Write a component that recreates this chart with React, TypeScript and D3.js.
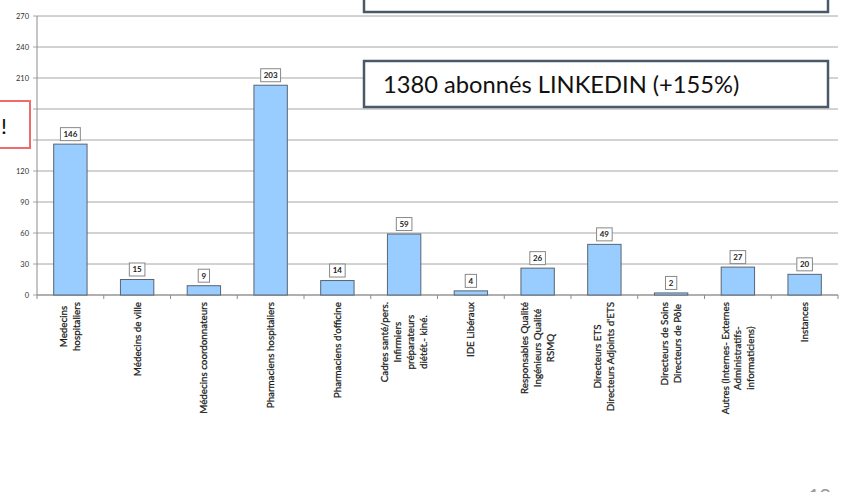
import React, { useEffect, useRef } from 'react';
import * as d3 from 'd3';

// categories (line breaks as in the original)
const categories: string[][] = [
  ['Medecins', 'hospitaliers'],
  ['Médecins de ville'],
  ['Médecins coordonnateurs'],
  ['Pharmaciens hospitaliers'],
  ["Pharmaciens d'officine"],
  ['Cadres santé/pers.', 'Infirmiers', 'préparateurs', 'diétét.- kiné.'],
  ['IDE Libéraux'],
  ['Responsables Qualité', 'Ingénieurs Qualité', 'RSMQ'],
  ['Directeurs ETS', "Directeurs Adjoints d'ETS"],
  ['Directeurs de Soins', 'Directeurs de Pôle'],
  ['Autres (Internes- Externes', 'Administratifs-', 'informaticiens)'],
  ['Instances'],
];
const values: number[] = [146, 15, 9, 203, 14, 59, 4, 26, 49, 2, 27, 20];
const yTicks: number[] = [0, 30, 60, 90, 120, 150, 180, 210, 240, 270];
const linkedinText = '1380 abonnés LINKEDIN (+155%)';

export default function App() {
  const svgRef = useRef<SVGSVGElement>(null);

  const width = 844;
  const height = 492;
  const margin = { top: 16, right: 6, bottom: 197, left: 37 };
  const innerW = width - margin.left - margin.right;
  const innerH = height - margin.top - margin.bottom;

  useEffect(() => {
    const svg = d3.select(svgRef.current);
    svg.selectAll('*').remove();

    const x = d3.scaleBand<number>()
      .domain(d3.range(categories.length))
      .range([0, innerW])
      .paddingInner(0.5)
      .paddingOuter(0.25);
    const y = d3.scaleLinear().domain([0, 270]).range([innerH, 0]);

    svg.append('rect').attr('width', width).attr('height', height).attr('fill', '#fff');

    const g = svg.append('g').attr('transform', `translate(${margin.left},${margin.top})`);

    // gridlines + y axis
    g.append('g')
      .selectAll('line')
      .data(yTicks)
      .join('line')
      .attr('x1', -4)
      .attr('x2', innerW)
      .attr('y1', d => y(d))
      .attr('y2', d => y(d))
      .attr('stroke', '#a6a6a6')
      .attr('stroke-width', 1);

    g.append('g')
      .selectAll('text')
      .data(yTicks)
      .join('text')
      .attr('x', -8)
      .attr('y', d => y(d))
      .attr('dy', '0.35em')
      .attr('text-anchor', 'end')
      .attr('font-family', 'Lato, sans-serif')
      .attr('font-size', 7.5)
      .attr('fill', '#333')
      .text(d => d);

    g.append('line')
      .attr('x1', 0).attr('x2', 0)
      .attr('y1', 0).attr('y2', innerH)
      .attr('stroke', '#8c8c8c');

    // x axis with ticks on category boundaries
    g.append('line')
      .attr('x1', 0).attr('x2', innerW)
      .attr('y1', innerH).attr('y2', innerH)
      .attr('stroke', '#8c8c8c');
    const step = x.step();
    g.append('g')
      .selectAll('line')
      .data(d3.range(categories.length + 1))
      .join('line')
      .attr('x1', d => d * step)
      .attr('x2', d => d * step)
      .attr('y1', innerH)
      .attr('y2', innerH + 4)
      .attr('stroke', '#8c8c8c');

    // bars
    g.append('g')
      .selectAll('rect')
      .data(values)
      .join('rect')
      .attr('x', (d, i) => x(i)!)
      .attr('y', d => y(d))
      .attr('width', x.bandwidth())
      .attr('height', d => innerH - y(d))
      .attr('fill', '#99ccff')
      .attr('stroke', '#5a6470')
      .attr('stroke-width', 1);

    // value labels in boxes
    const lab = g.append('g')
      .selectAll('g')
      .data(values)
      .join('g')
      .attr('transform', (d, i) => `translate(${x(i)! + x.bandwidth() / 2},${y(d) - 10})`);
    lab.append('rect')
      .attr('x', d => -(String(d).length * 4.3 + 7) / 2)
      .attr('y', -6.5)
      .attr('width', d => String(d).length * 4.3 + 7)
      .attr('height', 13)
      .attr('fill', '#fff')
      .attr('stroke', '#888');
    lab.append('text')
      .attr('text-anchor', 'middle')
      .attr('dy', '0.35em')
      .attr('font-family', 'Lato, sans-serif')
      .attr('font-weight', 700)
      .attr('font-size', 8)
      .attr('fill', '#222')
      .text(d => d);

    // rotated category labels, lines centred, top of block just under the axis
    const lineH = 12.8;
    const cats = g.append('g')
      .selectAll('g')
      .data(categories)
      .join('g');
    cats.each(function (lines, i) {
      const cg = d3.select(this);
      const t = cg.selectAll('text')
        .data(lines)
        .join('text')
        .attr('text-anchor', 'middle')
        .attr('x', 0)
        .attr('y', (d, k) => (k - (lines.length - 1) / 2) * lineH)
        .attr('dy', '0.35em')
        .attr('font-family', 'Lato, sans-serif')
        .attr('font-size', 9.8)
        .attr('fill', '#1a1a1a')
        .attr('stroke', '#1a1a1a')
        .attr('stroke-width', 0.25)
        .text(d => d);
      let maxLen = 0;
      t.each(function () {
        maxLen = Math.max(maxLen, (this as SVGTextElement).getComputedTextLength());
      });
      const cx = x(i)! + x.bandwidth() / 2;
      cg.attr('transform', `translate(${cx},${innerH + 7 + maxLen / 2}) rotate(-90)`);
    });

    // overlay boxes from the slide
    svg.append('rect')
      .attr('x', 364).attr('y', -10)
      .attr('width', 464).attr('height', 22)
      .attr('fill', '#fff')
      .attr('stroke', '#4b5868')
      .attr('stroke-width', 2.5);

    svg.append('rect')
      .attr('x', 364).attr('y', 61)
      .attr('width', 464).attr('height', 46)
      .attr('fill', '#fff')
      .attr('stroke', '#4b5868')
      .attr('stroke-width', 2.5);
    svg.append('text')
      .attr('x', 383).attr('y', 93)
      .attr('font-family', 'Lato, sans-serif')
      .attr('font-size', 23.7)
      .attr('fill', '#111')
      .text(linkedinText);

    svg.append('rect')
      .attr('x', -10).attr('y', 101)
      .attr('width', 40).attr('height', 47)
      .attr('fill', '#fff')
      .attr('stroke', '#f26b6b')
      .attr('stroke-width', 2);
    svg.append('text')
      .attr('x', 1).attr('y', 134)
      .attr('font-family', 'Lato, sans-serif')
      .attr('font-size', 22)
      .attr('fill', '#111')
      .text('!');

    // slide page number, partly off the bottom edge as in the capture
    svg.append('text')
      .attr('x', 808).attr('y', 503)
      .attr('font-family', 'Lato, sans-serif')
      .attr('font-size', 20)
      .attr('fill', '#999')
      .text('19');
  }, []);

  return (
    <svg
      ref={svgRef}
      width={width}
      height={height}
      style={{ position: 'absolute', left: 0, top: 0, display: 'block' }}
    />
  );
}
